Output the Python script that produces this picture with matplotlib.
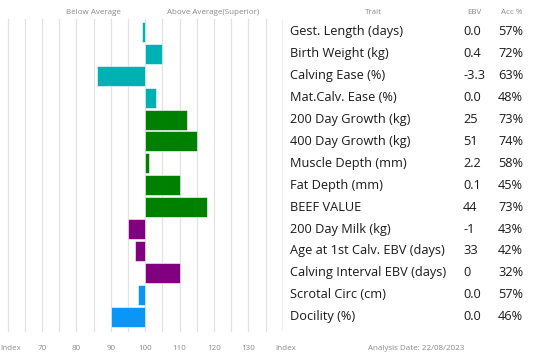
import matplotlib
matplotlib.use('Agg')
import matplotlib.pyplot as plt
import matplotlib.transforms as mtransforms
import numpy as np

plt.rcParams['font.family'] = ['Open Sans', 'DejaVu Sans']

traits = ['Gest. Length (days)', 'Birth Weight (kg)', 'Calving Ease (%)',
          'Mat.Calv. Ease (%)', '200 Day Growth (kg)', '400 Day Growth (kg)',
          'Muscle Depth (mm)', 'Fat Depth (mm)', 'BEEF VALUE',
          '200 Day Milk (kg)', 'Age at 1st Calv. EBV (days)',
          'Calving Interval EBV (days)', 'Scrotal Circ (cm)', 'Docility (%)']
ebv = ['0.0', '0.4', '-3.3', '0.0', '25', '51', '2.2', '0.1', '44',
       '-1', '33', '0', '0.0', '0.0']
acc = ['57%', '72%', '63%', '48%', '73%', '74%', '58%', '45%', '73%',
       '43%', '42%', '32%', '57%', '46%']
index_vals = [99.1, 105, 86, 103, 112, 115, 101, 110, 118,
              95, 97, 110, 98, 90]
groups = ['teal'] * 4 + ['green'] * 5 + ['purple'] * 3 + ['blue'] * 2
tick_vals = [70, 80, 90, 100, 110, 120, 130]

palette = {'teal': '#00B1B3', 'green': '#008000',
           'purple': '#800080', 'blue': '#0A96F7'}

W, H = 550, 362
fig = plt.figure(figsize=(W / 100, H / 100), dpi=100)

def px(x0, y0, x1, y1):
    return [x0 / W, 1 - y1 / H, (x1 - x0) / W, (y1 - y0) / H]

ax = fig.add_axes(px(0, 21, 280, 327.6))
n = len(traits)
rows = np.arange(n)
ax.set_xlim(100 - 145.3 / 3.44, 100 + (280 - 145.3) / 3.44)
ax.set_ylim(n - 0.5, -0.5)
for g in np.arange(60, 136, 5):
    ax.axvline(g, ymin=-0.01, ymax=1.005, color='#e2e2e2', lw=0.9,
               zorder=0, clip_on=False)
ax.barh(rows, np.array(index_vals) - 100, left=100, height=0.91,
        color=[palette[g] for g in groups], edgecolor='white', lw=0.4,
        zorder=2)
for s in ax.spines.values():
    s.set_visible(False)
ax.set_xticks([])
ax.set_yticks([])
ax.patch.set_alpha(0)

# table on the right, rows follow the axis y scale
tr = mtransforms.blended_transform_factory(fig.transFigure, ax.transData)
for i in rows:
    fig.text(290 / W, i, traits[i], transform=tr, fontsize=9.2,
             color='#1a1a1a', va='center', ha='left')
    fig.text(463 / W, i, ebv[i], transform=tr, fontsize=9.2,
             color='#1a1a1a', va='center', ha='left')
    fig.text(498 / W, i, acc[i], transform=tr, fontsize=9.2,
             color='#1a1a1a', va='center', ha='left')

line = plt.Line2D([282 / W, 282 / W], [1 - 20 / H, 1 - 330 / H],
                  transform=fig.transFigure, color='#eeeeee', lw=0.8)
fig.add_artist(line)

hdr = dict(fontsize=5.8, color='#8a8a8a', va='center')
fig.text(93 / W, 1 - 12 / H, 'Below Average', ha='center', **hdr)
fig.text(213 / W, 1 - 12 / H, 'Above Average(Superior)', ha='center', **hdr)
fig.text(373 / W, 1 - 12 / H, 'Trait', ha='center', **hdr)
fig.text(474 / W, 1 - 12 / H, 'EBV', ha='center', **hdr)
fig.text(512 / W, 1 - 12 / H, 'Acc %', ha='center', **hdr)

# bottom index scale
trx = mtransforms.blended_transform_factory(ax.transData, fig.transFigure)
for v in tick_vals:
    fig.text(v, 1 - 348 / H, str(v), transform=trx, ha='center', **hdr)
fig.text(0, 1 - 348 / H, 'Index', ha='left', **hdr)
fig.text(275 / W, 1 - 348 / H, 'Index', ha='left', **hdr)
fig.text(368 / W, 1 - 348 / H, 'Analysis Date: 22/08/2023', ha='left', **hdr)

fig.savefig('out.png', dpi=100)
